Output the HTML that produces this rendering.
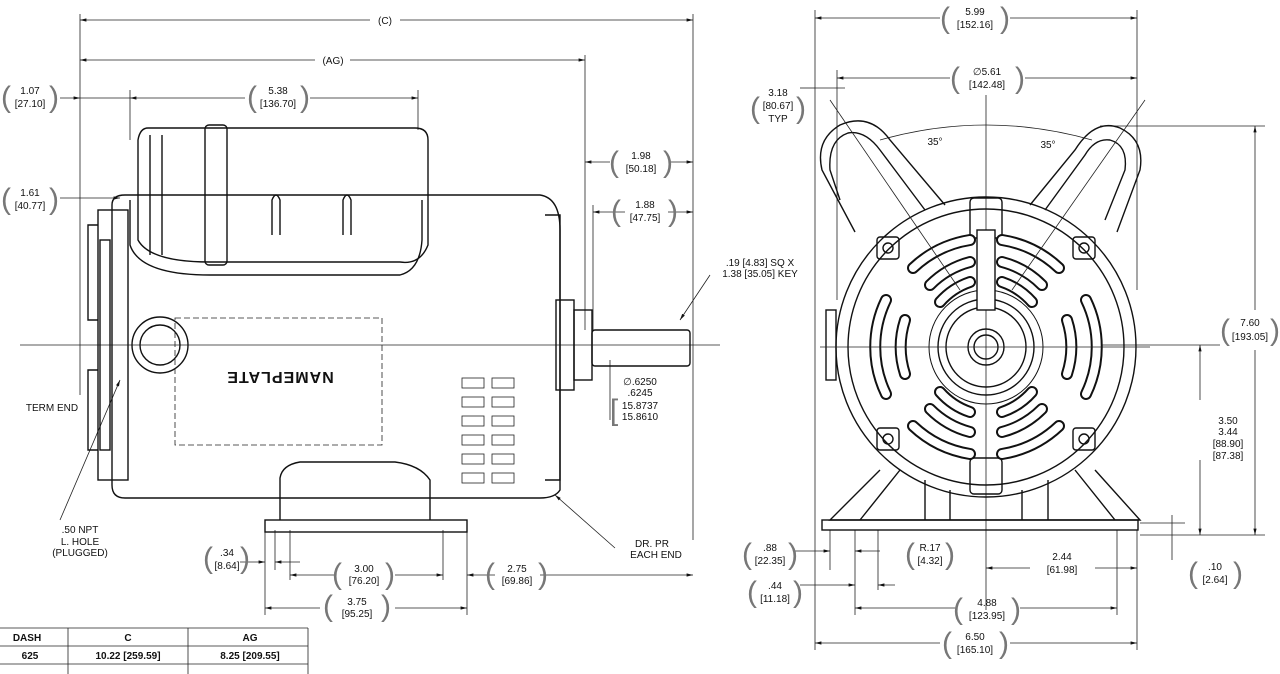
<!DOCTYPE html>
<html><head><meta charset="utf-8"><style>
html,body{margin:0;padding:0;background:#fff;}
svg{display:block;font-family:"Liberation Sans",sans-serif;}
text{font-size:10px;fill:#111;}
.l{stroke:#222;stroke-width:.8;fill:none}
.t{stroke:#111;stroke-width:1.4;fill:none}
.p text{font-size:30px;fill:#777;}
</style></head><body>
<svg width="1280" height="674" viewBox="0 0 1280 674">
<defs>
<marker id="a" markerWidth="8" markerHeight="6" refX="8" refY="3" orient="auto"><path d="M0 1 L8 3 L0 5Z" fill="#111"/></marker>
</defs>
<g class="l">
<line x1="80" y1="14" x2="80" y2="395"/><line x1="693" y1="14" x2="693" y2="540"/><line x1="585" y1="55" x2="585" y2="330"/>
<line x1="370" y1="20" x2="80" y2="20" marker-end="url(#a)"/><line x1="400" y1="20" x2="693" y2="20" marker-end="url(#a)"/>
<line x1="315" y1="60" x2="80" y2="60" marker-end="url(#a)"/><line x1="350" y1="60" x2="585" y2="60" marker-end="url(#a)"/>
<line x1="60" y1="98" x2="80" y2="98" marker-end="url(#a)"/><line x1="80" y1="98" x2="130" y2="98"/><line x1="130" y1="90" x2="130" y2="140"/>
<line x1="245" y1="98" x2="130" y2="98" marker-end="url(#a)"/><line x1="310" y1="98" x2="418" y2="98" marker-end="url(#a)"/><line x1="418" y1="90" x2="418" y2="130"/>
<line x1="60" y1="198" x2="120" y2="198" marker-end="url(#a)"/>
<line x1="610" y1="162" x2="585" y2="162" marker-end="url(#a)"/><line x1="670" y1="162" x2="693" y2="162" marker-end="url(#a)"/>
<line x1="593" y1="205" x2="593" y2="330"/><line x1="625" y1="212" x2="593" y2="212" marker-end="url(#a)"/><line x1="668" y1="212" x2="693" y2="212" marker-end="url(#a)"/>
<line x1="610" y1="360" x2="610" y2="420"/>
<line x1="265" y1="530" x2="265" y2="615"/><line x1="290" y1="530" x2="290" y2="580"/><line x1="275" y1="530" x2="275" y2="570"/>
<line x1="443" y1="530" x2="443" y2="580"/><line x1="467" y1="530" x2="467" y2="615"/>
<line x1="240" y1="562" x2="265" y2="562" marker-end="url(#a)"/><line x1="300" y1="562" x2="275" y2="562" marker-end="url(#a)"/>
<line x1="335" y1="575" x2="290" y2="575" marker-end="url(#a)"/><line x1="395" y1="575" x2="443" y2="575" marker-end="url(#a)"/>
<line x1="495" y1="575" x2="467" y2="575" marker-end="url(#a)"/><line x1="540" y1="575" x2="693" y2="575" marker-end="url(#a)"/>
<line x1="320" y1="608" x2="265" y2="608" marker-end="url(#a)"/><line x1="395" y1="608" x2="467" y2="608" marker-end="url(#a)"/>
<line x1="20" y1="345" x2="720" y2="345"/>
<line x1="60" y1="520" x2="120" y2="380" marker-end="url(#a)"/>
<line x1="615" y1="548" x2="555" y2="495" marker-end="url(#a)"/>
<line x1="710" y1="275" x2="680" y2="320" marker-end="url(#a)"/>
</g>
<g font-size="10" text-anchor="middle">
<text x="385" y="24">(C)</text><text x="333" y="64">(AG)</text>
<text x="30" y="94">1.07</text><text x="30" y="107">[27.10]</text>
<text x="278" y="94">5.38</text><text x="278" y="107">[136.70]</text>
<text x="30" y="196">1.61</text><text x="30" y="209">[40.77]</text>
<text x="641" y="159">1.98</text><text x="641" y="172">[50.18]</text>
<text x="645" y="208">1.88</text><text x="645" y="221">[47.75]</text>
<text x="760" y="266">.19 [4.83] SQ X</text><text x="760" y="277">1.38 [35.05] KEY</text>
<text x="640" y="385">∅.6250</text><text x="640" y="396">.6245</text>
<text x="640" y="409">15.8737</text><text x="640" y="420">15.8610</text>
<text x="52" y="411">TERM END</text>
<text x="80" y="533">.50 NPT</text><text x="80" y="545">L. HOLE</text><text x="80" y="556">(PLUGGED)</text>
<text x="652" y="547">DR. PR</text><text x="656" y="558">EACH END</text>
<text x="227" y="556">.34</text><text x="227" y="569">[8.64]</text>
<text x="364" y="572">3.00</text><text x="364" y="584">[76.20]</text>
<text x="517" y="572">2.75</text><text x="517" y="584">[69.86]</text>
<text x="357" y="605">3.75</text><text x="357" y="617">[95.25]</text>
</g>
<g class="p" text-anchor="middle">
<text x="6" y="107">(</text><text x="54" y="107">)</text>
<text x="6" y="209">(</text><text x="54" y="209">)</text>
<text x="252" y="107">(</text><text x="305" y="107">)</text>
<text x="614" y="172">(</text><text x="668" y="172">)</text>
<text x="616" y="221">(</text><text x="673" y="221">)</text>
<text x="208" y="568">(</text><text x="245" y="568">)</text>
<text x="337" y="584">(</text><text x="390" y="584">)</text>
<text x="490" y="584">(</text><text x="543" y="584">)</text>
<text x="328" y="616">(</text><text x="386" y="616">)</text>
<text x="614" y="420">[</text>
</g>
<g class="t">
<path d="M112 205 Q112 195 125 195 L540 195 Q560 198 560 230 L560 490 Q555 498 540 498 L125 498 Q112 498 112 485 Z"/>
<rect x="98" y="210" width="30" height="270"/>
<rect x="100" y="240" width="10" height="210"/>
<path d="M130 200 L130 245 Q140 275 210 275 L400 275 Q420 270 422 240 L422 200"/>
<path d="M148 128 L415 128 Q428 128 428 140 L428 245 Q420 265 400 262 L210 262 Q150 262 138 240 L138 140 Q140 128 148 128Z"/>
<rect x="205" y="125" width="22" height="140" rx="4"/>
<path d="M150 135 L150 255 M162 135 L162 255"/>
<path d="M272 235 L272 200 Q276 190 280 200 L280 235 M343 235 L343 200 Q347 190 351 200 L351 235"/>
<path d="M545 215 L560 215 L560 480 L545 480"/>
<rect x="556" y="300" width="18" height="90"/>
<rect x="574" y="310" width="18" height="70"/>
<rect x="592" y="330" width="98" height="36" rx="3"/>
<path d="M280 520 L280 478 Q282 465 300 462 L395 462 Q420 465 430 480 L430 520"/>
<rect x="265" y="520" width="202" height="12"/>
<circle cx="160" cy="345" r="28"/><circle cx="160" cy="345" r="20"/>
<path d="M98 225 L88 225 L88 320 L98 320 M98 370 L88 370 L88 450 L98 450"/>
</g>
<rect x="175" y="318" width="207" height="127" class="l" stroke-dasharray="6 3"/>
<text x="280" y="386" text-anchor="middle" transform="rotate(180 280 379)" style="font-size:16px;font-weight:bold;letter-spacing:1px">NAMEPLATE</text>
<g class="l">
<rect x="462" y="378" width="22" height="10"/><rect x="492" y="378" width="22" height="10"/>
<rect x="462" y="397" width="22" height="10"/><rect x="492" y="397" width="22" height="10"/>
<rect x="462" y="416" width="22" height="10"/><rect x="492" y="416" width="22" height="10"/>
<rect x="462" y="435" width="22" height="10"/><rect x="492" y="435" width="22" height="10"/>
<rect x="462" y="454" width="22" height="10"/><rect x="492" y="454" width="22" height="10"/>
<rect x="462" y="473" width="22" height="10"/><rect x="492" y="473" width="22" height="10"/>
</g>
<g class="l" stroke="#666">
<line x1="0" y1="628" x2="308" y2="628"/><line x1="0" y1="646" x2="308" y2="646"/><line x1="0" y1="664" x2="308" y2="664"/>
<line x1="68" y1="628" x2="68" y2="674"/><line x1="188" y1="628" x2="188" y2="674"/><line x1="308" y1="628" x2="308" y2="674"/>
</g>
<g font-size="9" font-weight="bold" text-anchor="middle">
<text x="27" y="641">DASH</text><text x="128" y="641">C</text><text x="250" y="641">AG</text>
<text x="30" y="659">625</text><text x="128" y="659">10.22 [259.59]</text><text x="250" y="659">8.25 [209.55]</text>
</g>
<g class="l">
<line x1="815" y1="10" x2="815" y2="650"/><line x1="1137" y1="10" x2="1137" y2="290"/>
<line x1="940" y1="18" x2="815" y2="18" marker-end="url(#a)"/><line x1="1010" y1="18" x2="1137" y2="18" marker-end="url(#a)"/>
<line x1="837" y1="70" x2="837" y2="300"/><line x1="950" y1="78" x2="837" y2="78" marker-end="url(#a)"/><line x1="1025" y1="78" x2="1137" y2="78" marker-end="url(#a)"/>
<line x1="986" y1="95" x2="986" y2="610"/>
<line x1="800" y1="88" x2="815" y2="88"/><line x1="815" y1="88" x2="845" y2="88"/>
<line x1="1100" y1="126" x2="1265" y2="126"/><line x1="1255" y1="310" x2="1255" y2="126" marker-end="url(#a)"/><line x1="1255" y1="350" x2="1255" y2="535" marker-end="url(#a)"/>
<line x1="1100" y1="345" x2="1220" y2="345"/><line x1="1200" y1="400" x2="1200" y2="345" marker-end="url(#a)"/><line x1="1200" y1="460" x2="1200" y2="535" marker-end="url(#a)"/>
<line x1="1140" y1="535" x2="1265" y2="535"/><line x1="1140" y1="523" x2="1185" y2="523"/><line x1="1172" y1="515" x2="1172" y2="560"/>
<line x1="830" y1="530" x2="830" y2="570"/><line x1="855" y1="530" x2="855" y2="615"/><line x1="878" y1="530" x2="878" y2="590"/><line x1="1117" y1="530" x2="1117" y2="615"/>
<line x1="795" y1="551" x2="830" y2="551" marker-end="url(#a)"/><line x1="880" y1="551" x2="855" y2="551" marker-end="url(#a)"/>
<line x1="1030" y1="568" x2="986" y2="568" marker-end="url(#a)"/><line x1="1095" y1="568" x2="1137" y2="568" marker-end="url(#a)"/><line x1="1137" y1="530" x2="1137" y2="650"/>
<line x1="800" y1="585" x2="855" y2="585" marker-end="url(#a)"/><line x1="895" y1="585" x2="878" y2="585" marker-end="url(#a)"/>
<line x1="955" y1="608" x2="855" y2="608" marker-end="url(#a)"/><line x1="1020" y1="608" x2="1117" y2="608" marker-end="url(#a)"/>
<line x1="940" y1="643" x2="815" y2="643" marker-end="url(#a)"/><line x1="1010" y1="643" x2="1137" y2="643" marker-end="url(#a)"/>
<path d="M880 140 Q986 110 1092 140"/>
</g>
<g font-size="10" text-anchor="middle">
<text x="975" y="15">5.99</text><text x="975" y="28">[152.16]</text>
<text x="987" y="75">∅5.61</text><text x="987" y="88">[142.48]</text>
<text x="778" y="96">3.18</text><text x="778" y="109">[80.67]</text><text x="778" y="122">TYP</text>
<text x="935" y="145">35°</text><text x="1048" y="148">35°</text>
<text x="1250" y="326">7.60</text><text x="1250" y="340">[193.05]</text>
<text x="1228" y="424">3.50</text><text x="1228" y="435">3.44</text><text x="1228" y="447">[88.90]</text><text x="1228" y="459">[87.38]</text>
<text x="1215" y="570">.10</text><text x="1215" y="583">[2.64]</text>
<text x="770" y="551">.88</text><text x="770" y="564">[22.35]</text>
<text x="775" y="589">.44</text><text x="775" y="602">[11.18]</text>
<text x="930" y="551">R.17</text><text x="930" y="564">[4.32]</text>
<text x="1062" y="560">2.44</text><text x="1062" y="573">[61.98]</text>
<text x="987" y="606">4.88</text><text x="987" y="619">[123.95]</text>
<text x="975" y="640">6.50</text><text x="975" y="653">[165.10]</text>
</g>
<g class="p" text-anchor="middle">
<text x="945" y="28">(</text><text x="1005" y="28">)</text>
<text x="955" y="88">(</text><text x="1020" y="88">)</text>
<text x="755" y="118">(</text><text x="801" y="118">)</text>
<text x="1225" y="340">(</text><text x="1275" y="340">)</text>
<text x="1193" y="583">(</text><text x="1238" y="583">)</text>
<text x="747" y="564">(</text><text x="793" y="564">)</text>
<text x="752" y="602">(</text><text x="798" y="602">)</text>
<text x="910" y="564">(</text><text x="950" y="564">)</text>
<text x="958" y="619">(</text><text x="1016" y="619">)</text>
<text x="947" y="653">(</text><text x="1004" y="653">)</text>
</g>
<g class="t">
<path d="M855 232 L822 170 Q815 140 840 125 Q870 112 890 140 L945 205"/>
<path d="M840 200 L830 170 Q828 140 848 133 Q865 130 880 150 L925 210"/>
<path d="M1117 232 L1140 170 Q1145 140 1120 128 Q1095 118 1075 150 L1030 205"/>
<path d="M1105 220 L1125 170 Q1128 145 1110 140 Q1095 138 1085 155 L1045 210"/>
<path d="M880 470 L830 520 L1140 520 L1095 470"/>
<path d="M900 470 L860 520 M1075 470 L1115 520 M925 480 L925 520 M1048 480 L1048 520 M950 490 L950 520 M1022 490 L1022 520"/>
<rect x="822" y="520" width="316" height="10"/>
<circle cx="986" cy="347" r="150"/><circle cx="986" cy="347" r="138"/>
<circle cx="986" cy="347" r="48"/><circle cx="986" cy="347" r="40"/><circle cx="986" cy="347" r="18"/><circle cx="986" cy="347" r="12"/>
<circle cx="986" cy="347" r="57" stroke-width="1"/>
<rect x="970" y="198" width="32" height="40" rx="4"/><rect x="970" y="458" width="32" height="36" rx="4"/>
<rect x="977" y="230" width="18" height="80" fill="#fff"/>
<rect x="877" y="237" width="22" height="22" rx="3"/><rect x="1073" y="237" width="22" height="22" rx="3"/>
<rect x="877" y="428" width="22" height="22" rx="3"/><rect x="1073" y="428" width="22" height="22" rx="3"/>
<circle cx="888" cy="248" r="5"/><circle cx="1084" cy="248" r="5"/><circle cx="888" cy="439" r="5"/><circle cx="1084" cy="439" r="5"/>
<rect x="826" y="310" width="10" height="70"/>
</g>
<g fill="none" stroke-linecap="round">
<g stroke="#111" stroke-width="12">
<path d="M913 268 A108 108 0 0 1 970 240"/><path d="M1002 240 A108 108 0 0 1 1059 268"/>
<path d="M913 426 A108 108 0 0 0 970 454"/><path d="M1002 454 A108 108 0 0 0 1059 426"/>
<path d="M886 300 A108 108 0 0 0 886 394"/><path d="M1086 300 A108 108 0 0 1 1086 394"/>
<path d="M930 285 A88 88 0 0 1 970 262"/><path d="M1002 262 A88 88 0 0 1 1042 285"/>
<path d="M930 409 A88 88 0 0 0 970 432"/><path d="M1002 432 A88 88 0 0 0 1042 409"/>
<path d="M905 320 A88 88 0 0 0 905 374"/><path d="M1067 320 A88 88 0 0 1 1067 374"/>
<path d="M940 302 A70 70 0 0 1 970 282"/><path d="M1002 282 A70 70 0 0 1 1032 302"/>
<path d="M940 392 A70 70 0 0 0 970 412"/><path d="M1002 412 A70 70 0 0 0 1032 392"/>
</g>
<g stroke="#fff" stroke-width="8">
<path d="M913 268 A108 108 0 0 1 970 240"/><path d="M1002 240 A108 108 0 0 1 1059 268"/>
<path d="M913 426 A108 108 0 0 0 970 454"/><path d="M1002 454 A108 108 0 0 0 1059 426"/>
<path d="M886 300 A108 108 0 0 0 886 394"/><path d="M1086 300 A108 108 0 0 1 1086 394"/>
<path d="M930 285 A88 88 0 0 1 970 262"/><path d="M1002 262 A88 88 0 0 1 1042 285"/>
<path d="M930 409 A88 88 0 0 0 970 432"/><path d="M1002 432 A88 88 0 0 0 1042 409"/>
<path d="M905 320 A88 88 0 0 0 905 374"/><path d="M1067 320 A88 88 0 0 1 1067 374"/>
<path d="M940 302 A70 70 0 0 1 970 282"/><path d="M1002 282 A70 70 0 0 1 1032 302"/>
<path d="M940 392 A70 70 0 0 0 970 412"/><path d="M1002 412 A70 70 0 0 0 1032 392"/>
</g>
</g>
<g class="l"><line x1="820" y1="347" x2="1150" y2="347"/><line x1="830" y1="100" x2="960" y2="290"/><line x1="1145" y1="100" x2="1012" y2="290"/></g>
</svg>
</body></html>
